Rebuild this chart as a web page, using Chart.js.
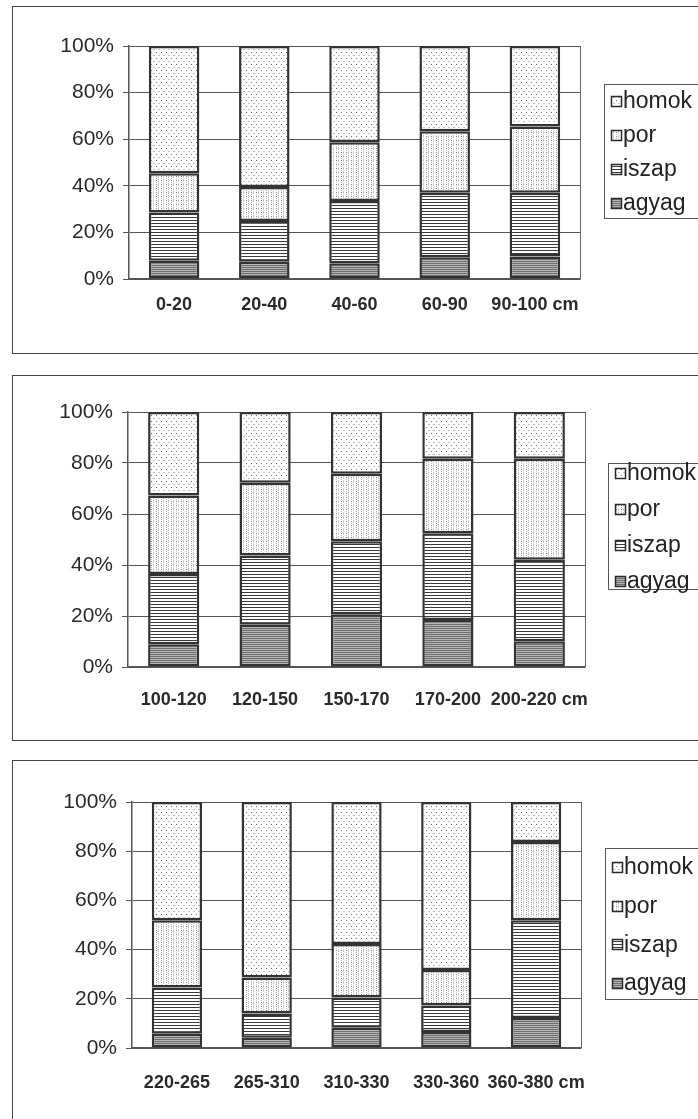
<!DOCTYPE html>
<html>
<head>
<meta charset="utf-8">
<script src="https://cdn.jsdelivr.net/npm/chart.js@4/dist/chart.umd.min.js"></script>
<style>
  html, body { margin: 0; padding: 0; background: #fff; overflow: hidden; width: 698px; height: 1119px; }
  .frame { position: absolute; left: 12px; border: 1px solid #444; background: #fff; }
  canvas { display: block; }
</style>
</head>
<body>
<div class="frame" style="top:6px;"><canvas id="c1" width="700" height="346"></canvas></div>
<div class="frame" style="top:375px;"><canvas id="c2" width="700" height="364"></canvas></div>
<div class="frame" style="top:760px;"><canvas id="c3" width="700" height="370"></canvas></div>
<script>
// Soil depth layers (cm) and particle-size fractions (%) for each profile section
const depths1 = ['0-20', '20-40', '40-60', '60-90', '90-100 cm'];
const agyag1 = [7.8, 7.4, 6.8, 9.3, 9.7];
const iszap1 = [20.7, 17.5, 26.7, 27.7, 27.3];
const por1   = [16.9, 14.6, 25.2, 26.4, 28.5];
const homok1 = [54.6, 60.5, 41.3, 36.6, 34.5];

const depths2 = ['100-120', '120-150', '150-170', '170-200', '200-220 cm'];
const agyag2 = [8.9, 16.6, 20.7, 18.4, 10.1];
const iszap2 = [27.6, 27.1, 28.6, 34.1, 32.0];
const por2   = [30.8, 28.6, 26.5, 29.2, 39.6];
const homok2 = [32.7, 27.7, 24.2, 18.3, 18.3];

const depths3 = ['220-265', '265-310', '310-330', '330-360', '360-380 cm'];
const agyag3 = [5.8, 4.2, 8.2, 6.5, 12.2];
const iszap3 = [18.8, 9.8, 12.3, 10.8, 39.7];
const por3   = [27.3, 14.7, 21.8, 14.4, 31.8];
const homok3 = [48.1, 71.3, 57.7, 68.3, 16.3];

const seriesNames = ['agyag', 'iszap', 'por', 'homok'];
const yTicks = [0, 20, 40, 60, 80, 100];

// ---- fill patterns (monochrome print style) ----
function makePattern(w, h, draw) {
  const c = document.createElement('canvas');
  c.width = w; c.height = h;
  const g = c.getContext('2d');
  g.fillStyle = '#fff';
  g.fillRect(0, 0, w, h);
  draw(g);
  return g.createPattern(c, 'repeat');
}
const px = (g, x, y, col) => { g.fillStyle = col; g.fillRect(x, y, 1, 1); };

// clay: dense grey horizontal rules
const patAgyag = makePattern(4, 2, g => {
  g.fillStyle = '#6e6e6e'; g.fillRect(0, 0, 4, 1);
  g.fillStyle = '#b5b5b5'; g.fillRect(0, 1, 4, 1);
});
// silt: thin dark horizontal rules
const patIszap = makePattern(4, 3, g => {
  g.fillStyle = '#3a3a3a'; g.fillRect(0, 0, 4, 1);
});
// fine sand: light vertical stipple with dots
const patPor = makePattern(5, 4, g => {
  px(g, 0, 0, '#c8c8c8'); px(g, 0, 1, '#c8c8c8'); px(g, 0, 2, '#c8c8c8');
  px(g, 3, 1, '#858585');
  px(g, 3, 3, '#bdbdbd');
});
// sand: sparse dots alternating with faint dashes
const patHomok = makePattern(5, 6, g => {
  px(g, 0, 0, '#c4c4c4'); px(g, 1, 0, '#c4c4c4');
  px(g, 3, 3, '#6a6a6a');
});
const fills = [patAgyag, patIszap, patPor, patHomok];

// ---- custom legend box and plot-area right edge ----
const decorPlugin = {
  id: 'decor',
  beforeDatasetsDraw(chart) {
    const { ctx, chartArea: a } = chart;
    ctx.save();
    ctx.strokeStyle = '#666';
    ctx.lineWidth = 1;
    ctx.beginPath();
    ctx.moveTo(Math.round(a.right) + 0.5, a.top);
    ctx.lineTo(Math.round(a.right) + 0.5, a.bottom);
    ctx.stroke();
    ctx.restore();
  },
  afterDraw(chart, args, opts) {
    const { ctx } = chart;
    const L = opts.left, T = opts.top, B = opts.bottom;
    ctx.save();
    ctx.strokeStyle = '#555';
    ctx.lineWidth = 1;
    ctx.strokeRect(L + 0.5, T + 0.5, chart.width + 20, B - T);
    const ds = chart.data.datasets.slice().reverse();
    ctx.font = '23px "Liberation Sans", Arial, sans-serif';
    ctx.textBaseline = 'middle';
    ds.forEach((d, i) => {
      const cy = opts.first + opts.step * i;
      const sx = L + 7, sy = Math.round(cy - 5);
      ctx.fillStyle = d.backgroundColor;
      ctx.fillRect(sx, sy, 10, 10);
      ctx.strokeStyle = '#2a2a2a';
      ctx.lineWidth = 1.5;
      ctx.strokeRect(sx + 0.5, sy + 0.5, 10, 10);
      ctx.fillStyle = '#222';
      ctx.fillText(d.label, L + 19, cy + 1);
    });
    ctx.restore();
  }
};

function buildChart(id, labels, seriesData, lay) {
  const datasets = seriesNames.map((name, i) => ({
    label: name,
    data: seriesData[i],
    backgroundColor: fills[i],
    borderColor: '#333',
    borderWidth: 2.5,
    borderSkipped: false,
    categoryPercentage: 1,
    barPercentage: 0.56
  }));
  return new Chart(document.getElementById(id), {
    type: 'bar',
    data: { labels, datasets },
    plugins: [decorPlugin],
    options: {
      responsive: false,
      animation: false,
      devicePixelRatio: 1,
      layout: { padding: { left: 0, top: lay.top, right: lay.right, bottom: 0 } },
      plugins: {
        legend: { display: false },
        tooltip: { enabled: false },
        decor: lay.legend
      },
      scales: {
        x: {
          stacked: true,
          grid: { display: false, drawTicks: false },
          border: { display: true, color: '#555', width: 1.5 },
          ticks: {
            autoSkip: false,
            padding: lay.labelPad,
            color: '#2a2a2a',
            maxRotation: 0,
            minRotation: 0,
            font: { family: '"Liberation Sans", Arial, sans-serif', size: 18, weight: 'bold' }
          },
          afterFit: s => { s.height = lay.xHeight; }
        },
        y: {
          stacked: true,
          min: 0,
          max: 100,
          afterBuildTicks: s => { s.ticks = yTicks.map(v => ({ value: v })); },
          grid: { color: '#555', lineWidth: 1, tickLength: 6, drawTicks: true },
          border: { display: true, color: '#555', width: 1.5 },
          ticks: {
            padding: 9,
            color: '#2a2a2a',
            font: { family: '"Liberation Sans", Arial, sans-serif', size: 21 },
            callback: v => v + '%'
          },
          afterFit: s => { s.width = lay.yWidth; }
        }
      }
    }
  });
}

buildChart('c1', depths1, [agyag1, iszap1, por1, homok1], {
  top: 39, right: 133, yWidth: 116, xHeight: 74, labelPad: 15,
  legend: { left: 591, top: 77, bottom: 211, first: 94, step: 34 }
});
buildChart('c2', depths2, [agyag2, iszap2, por2, homok2], {
  top: 36, right: 128, yWidth: 115, xHeight: 73, labelPad: 22,
  legend: { left: 595, top: 87, bottom: 213, first: 97, step: 36 }
});
buildChart('c3', depths3, [agyag3, iszap3, por3, homok3], {
  top: 41, right: 132, yWidth: 119, xHeight: 83, labelPad: 24,
  legend: { left: 592, top: 87, bottom: 238, first: 106, step: 38.7 }
});
</script>
</body>
</html>
